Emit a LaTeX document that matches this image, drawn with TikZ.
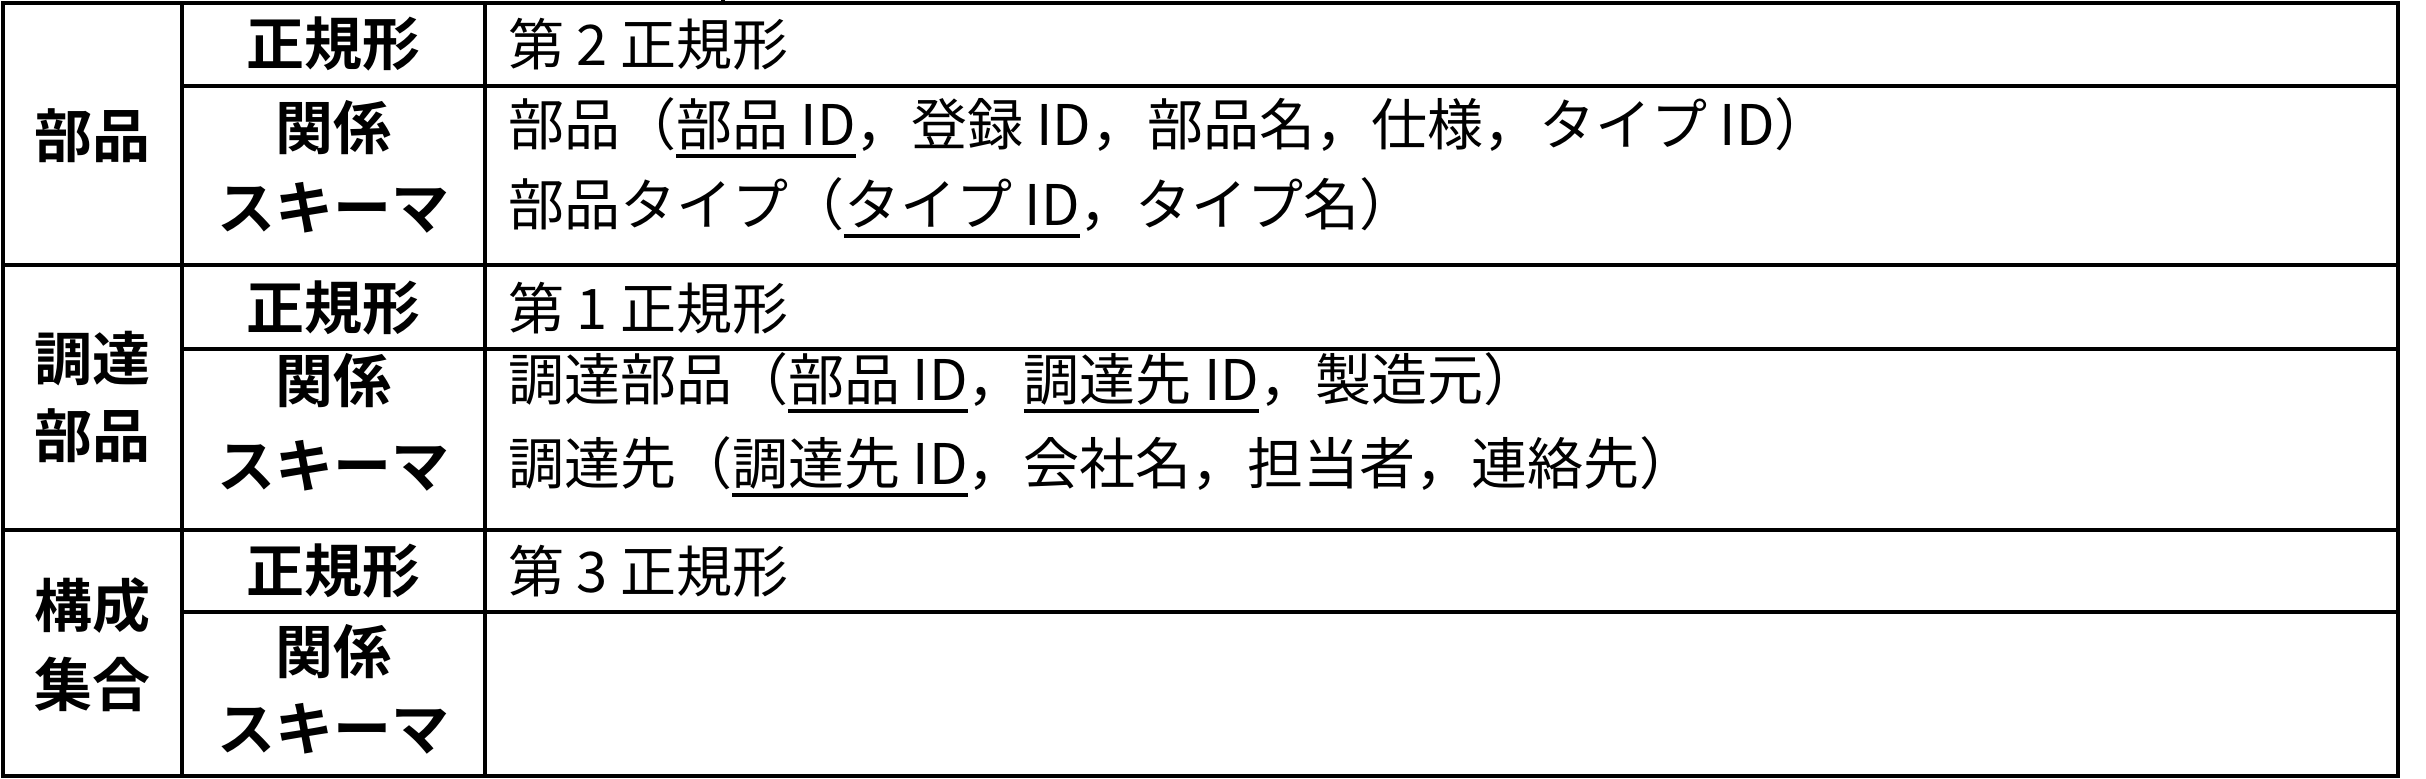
\documentclass[tikz,border=0pt]{standalone}
\usepackage{fontspec}
\newfontfamily\gothic{Noto Sans CJK JP}[BoldFont={* Bold}]
\newfontfamily\mincho{Noto Sans CJK JP}
\newcommand{\ul}[1]{\setbox0\hbox{#1}\rlap{\raisebox{-6pt}{\rule{\wd0}{1.8pt}}}\box0}
\begin{document}
\begin{tikzpicture}[x=0.5pt,y=-0.5pt,
  hd/.style={font=\gothic\bfseries\fontsize{29}{30}\selectfont, inner sep=0pt},
  tx/.style={font=\mincho\fontsize{28}{30}\selectfont, inner sep=0pt, anchor=west},
  grid/.style={line width=1.6pt}]
\useasboundingbox (0,0) rectangle (2426,778);
% lines
\draw[grid] (3,3) rectangle (2398,776);
\draw[grid] (182,3) -- (182,776);
\draw[grid] (485,3) -- (485,776);
\draw[grid] (3,265) -- (2398,265);
\draw[grid] (3,530) -- (2398,530);
\draw[grid] (182,86) -- (2398,86);
\draw[grid] (182,349) -- (2398,349);
\draw[grid] (182,612) -- (2398,612);
\draw[grid] (723,0) -- (723,3);
% left labels
\node[hd] (g1) at (92,136) {部品};
\node[hd] (g2a) at (92,359) {調達};
\node[hd] (g2b) at (92,436) {部品};
\node[hd] (g3a) at (92,606) {構成};
\node[hd] (g3b) at (92,684) {集合};
% middle labels
\node[hd] (m1) at (333,44) {正規形};
\node[hd] (m2a) at (333,128) {関係};
\node[hd] (m2b) at (333,208) {スキーマ};
\node[hd] (m3) at (333,308) {正規形};
\node[hd] (m4a) at (333,381) {関係};
\node[hd] (m4b) at (333,466) {スキーマ};
\node[hd] (m5) at (333,571) {正規形};
\node[hd] (m6a) at (333,652) {関係};
\node[hd] (m6b) at (333,729) {スキーマ};
% right texts
\node[tx] (r1) at (508,44) {第 2 正規形};
\node[tx] (r2a) at (508,128) {部品（\ul{部品 ID}，登録 ID，部品名，仕様，タイプ ID）};
\node[tx] (r2b) at (508,208) {部品タイプ（\ul{タイプ ID}，タイプ名）};
\node[tx] (r3) at (508,308) {第 1 正規形};
\node[tx] (r4a) at (508,383) {調達部品（\ul{部品 ID}，\ul{調達先 ID}，製造元）};
\node[tx] (r4b) at (508,467) {調達先（\ul{調達先 ID}，会社名，担当者，連絡先）};
\node[tx] (r5) at (508,571) {第 3 正規形};
\end{tikzpicture}
\end{document}
